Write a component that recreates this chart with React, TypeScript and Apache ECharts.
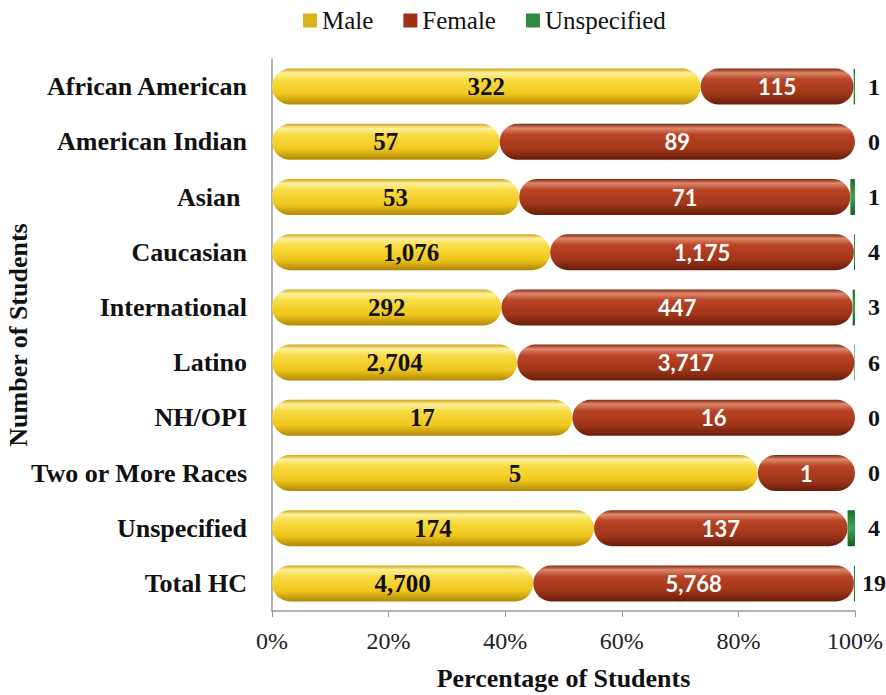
import React, { useEffect, useRef } from "react";
import * as echarts from "echarts";

const categories = [
  "African American",
  "American Indian",
  "Asian ",
  "Caucasian",
  "International",
  "Latino",
  "NH/OPI",
  "Two or More Races",
  "Unspecified",
  "Total HC",
];
const maleCounts = [322, 57, 53, 1076, 292, 2704, 17, 5, 174, 4700];
const femaleCounts = [115, 89, 71, 1175, 447, 3717, 16, 1, 137, 5768];
const unspecCounts = [1, 0, 1, 4, 3, 6, 0, 0, 4, 19];
const xTicks = [0, 20, 40, 60, 80, 100];

const fmt = (n: number) => n.toLocaleString("en-US");

export default function App() {
  const ref = useRef<HTMLDivElement>(null);
  useEffect(() => {
    document.body.style.margin = "0";
    if (!ref.current) return;
    const chart = echarts.init(ref.current, null, { renderer: "svg" });
    const totals = maleCounts.map((m, i) => m + femaleCounts[i] + unspecCounts[i]);
    const pct = (arr: number[]) => arr.map((v, i) => (v / totals[i]) * 100);
    const serif = "Liberation Serif";
    const yellow = new echarts.graphic.LinearGradient(0, 0, 0, 1, [
      { offset: 0, color: "#cfa414" },
      { offset: 0.12, color: "#fff1a0" },
      { offset: 0.3, color: "#f8dc46" },
      { offset: 0.7, color: "#f0c81e" },
      { offset: 1, color: "#b08808" },
    ]);
    const red = new echarts.graphic.LinearGradient(0, 0, 0, 1, [
      { offset: 0, color: "#82260e" },
      { offset: 0.12, color: "#dc886c" },
      { offset: 0.3, color: "#b94426" },
      { offset: 0.7, color: "#a0361a" },
      { offset: 1, color: "#681d0a" },
    ]);
    const green = new echarts.graphic.LinearGradient(0, 0, 0, 1, [
      { offset: 0, color: "#1f6a2c" },
      { offset: 0.5, color: "#3fa552" },
      { offset: 1, color: "#1a5a25" },
    ]);
    chart.setOption({
      animation: false,
      legend: {
        top: 3,
        left: 298,
        itemWidth: 14,
        itemHeight: 14,
        itemGap: 30,
        icon: "rect",
        textStyle: { fontFamily: serif, fontSize: 25, color: "#111" },
        data: [
          { name: "Male", itemStyle: { color: "#d9b21e" } },
          { name: "Female", itemStyle: { color: "#9e3018" } },
          { name: "Unspecified", itemStyle: { color: "#2f8a3e" } },
        ],
      },
      grid: {
        left: 272,
        right: 31,
        top: 59,
        bottom: 84,
        containLabel: false,
        outerBoundsMode: "none",
      },
      xAxis: {
        type: "value",
        min: 0,
        max: 100,
        interval: 20,
        name: "Percentage of Students",
        nameLocation: "middle",
        nameGap: 54,
        nameMoveOverlap: false,
        nameTextStyle: { fontFamily: serif, fontSize: 26, fontWeight: "bold", color: "#111" },
        axisLine: { show: true, lineStyle: { color: "#9a9a9a", width: 1.5 } },
        axisTick: { show: true, length: 6, lineStyle: { color: "#9a9a9a" } },
        splitLine: { show: false },
        axisLabel: {
          formatter: (v: number) => (xTicks.includes(v) ? v + "%" : ""),
          fontFamily: serif,
          fontSize: 24,
          color: "#222",
          margin: 18,
        },
      },
      yAxis: {
        type: "category",
        inverse: true,
        data: categories,
        name: "Number of Students",
        nameLocation: "middle",
        nameRotate: 90,
        nameGap: 241,
        nameMoveOverlap: false,
        nameTextStyle: { fontFamily: serif, fontSize: 26, fontWeight: "bold", color: "#111" },
        axisLine: { show: true, lineStyle: { color: "#9a9a9a", width: 1.5 } },
        axisTick: { show: false },
        axisLabel: {
          fontFamily: serif,
          fontSize: 26,
          fontWeight: "bold",
          color: "#111",
          margin: 25,
        },
      },
      series: [
        {
          name: "Male",
          type: "bar",
          stack: "all",
          barWidth: 36,
          data: pct(maleCounts),
          itemStyle: { color: yellow, borderRadius: 18 },
          label: {
            show: true,
            position: "inside",
            formatter: (p: any) => fmt(maleCounts[p.dataIndex]),
            fontFamily: serif,
            fontWeight: "bold",
            fontSize: 25,
            color: "#111",
          },
        },
        {
          name: "Female",
          type: "bar",
          stack: "all",
          barWidth: 36,
          data: pct(femaleCounts),
          itemStyle: { color: red, borderRadius: 18 },
          label: {
            show: true,
            position: "inside",
            formatter: (p: any) => fmt(femaleCounts[p.dataIndex]),
            fontFamily: "Lato",
            fontWeight: "bold",
            fontSize: 22,
            color: "#fff",
          },
        },
        {
          name: "Unspecified",
          type: "bar",
          stack: "all",
          barWidth: 36,
          data: pct(unspecCounts),
          itemStyle: { color: green, borderRadius: 1 },
          label: {
            show: true,
            position: "right",
            distance: 19,
            align: "center",
            formatter: (p: any) => fmt(unspecCounts[p.dataIndex]),
            fontFamily: serif,
            fontWeight: "bold",
            fontSize: 24,
            color: "#111",
          },
        },
      ],
    });
    return () => chart.dispose();
  }, []);
  return <div ref={ref} style={{ width: 886, height: 695 }} />;
}
